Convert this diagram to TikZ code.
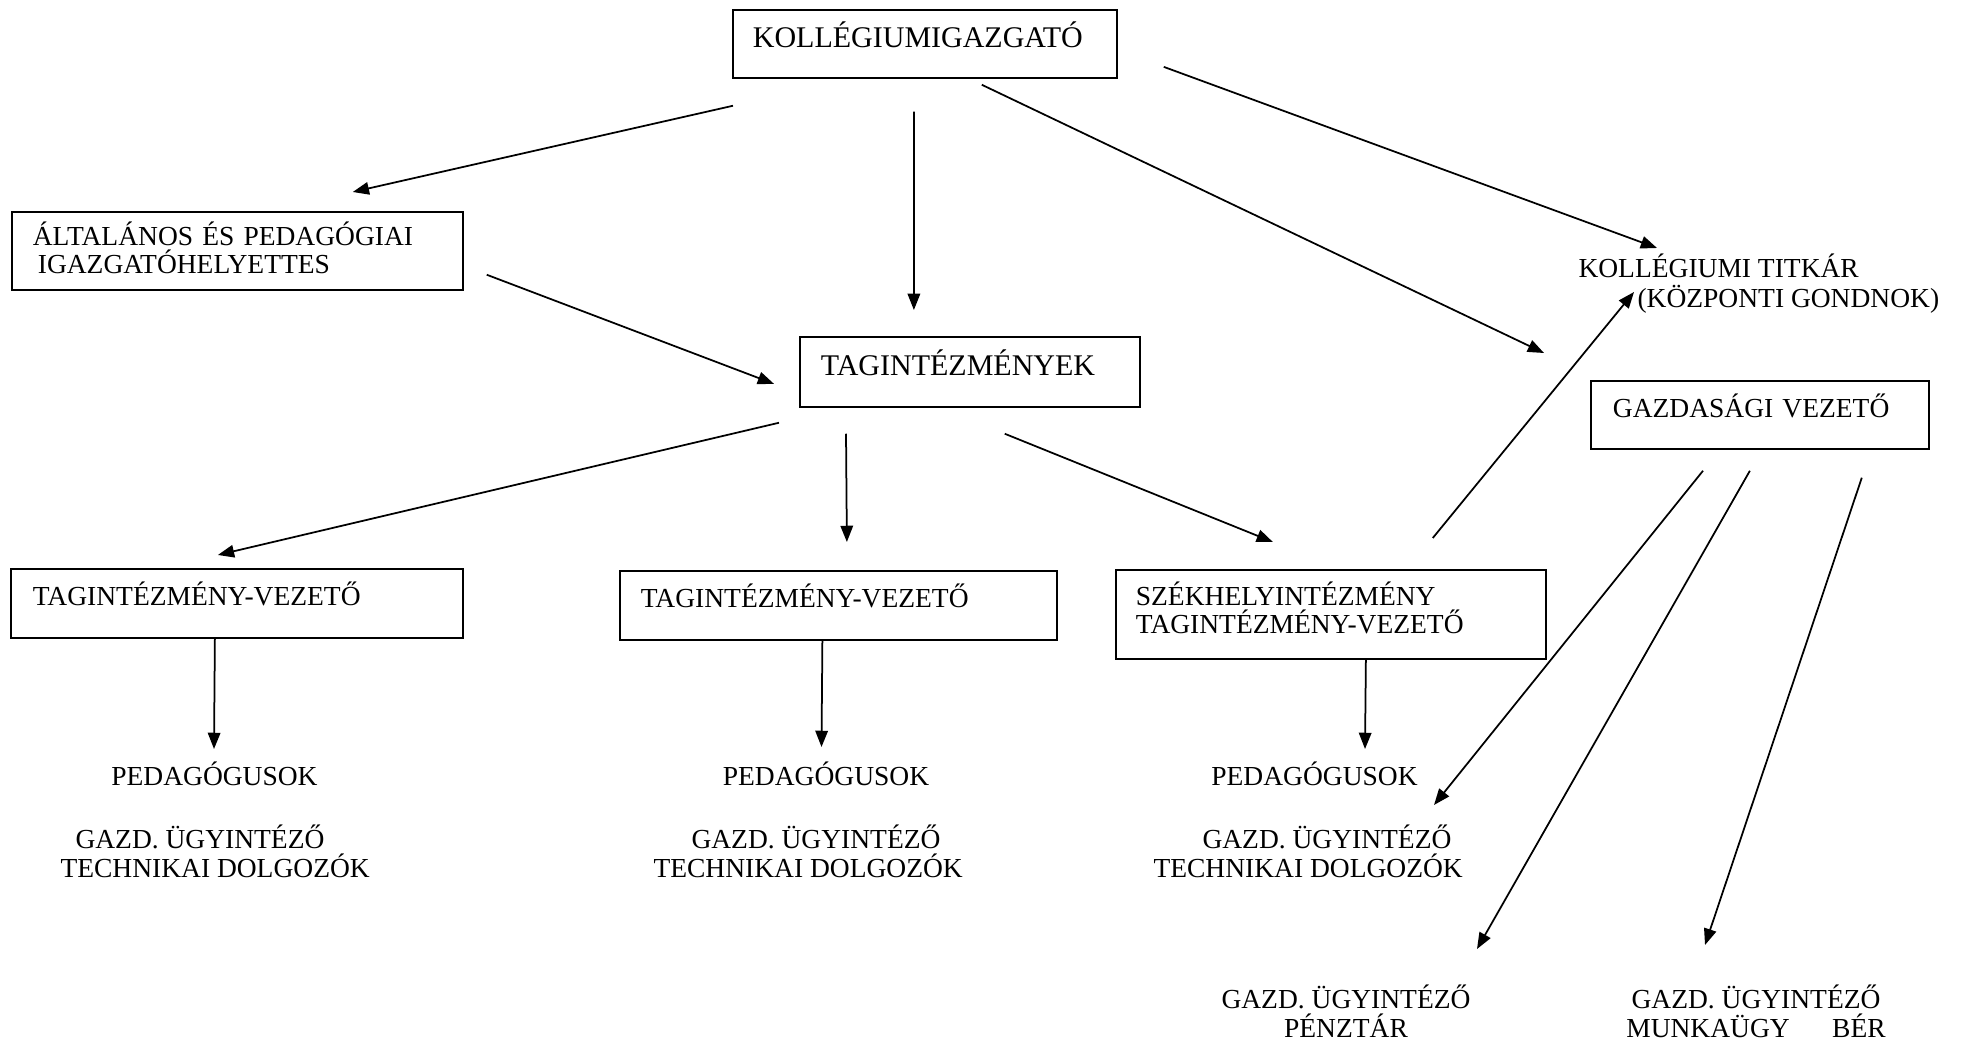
\documentclass[tikz,border=0pt]{standalone}
\usepackage{fontspec}
\setmainfont{Liberation Serif}
\usetikzlibrary{arrows.meta}

\begin{document}
\begin{tikzpicture}[x=0.4pt,y=-0.4pt,
	doboz/.style={draw,line width=0.7pt,anchor=north west,inner ysep=0pt,inner xsep=8.4pt,align=left,
		font=\fontsize{11}{11.2}\selectfont,text height=14.8pt,text depth=12.8pt},
	felirat/.style={inner sep=0pt,font=\fontsize{11}{11.6}\selectfont,text height=7.5pt},
	nyil/.style={line width=0.7pt,-{Triangle[length=6.5pt,width=5pt]}}]
	\useasboundingbox (0,0) rectangle (1963,1044);

	\node[doboz,font=\fontsize{12}{13}\selectfont,inner xsep=8pt,text width=137.6pt,text height=15.2pt,text depth=12pt] (igazgato) at (732,9) {KOLLÉGIUMIGAZGATÓ};
	\node[doboz,text width=163.6pt,text height=13.6pt,text depth=17.6pt] (altalanos) at (11,211) {ÁLTALÁNOS ÉS PEDAGÓGIAI\\\hspace*{2pt}IGAZGATÓHELYETTES};
	\node[doboz,font=\fontsize{12}{13}\selectfont,text width=119.2pt,text height=15.6pt,text depth=12.4pt] (tagint) at (799,336) {TAGINTÉZMÉNYEK};
	\node[doboz,inner xsep=8.8pt,text width=163.2pt] (tv1) at (10,568) {TAGINTÉZMÉNY-VEZETŐ};
	\node[doboz,text width=158pt] (tv2) at (619,570) {TAGINTÉZMÉNY-VEZETŐ};
	\node[doboz,inner xsep=8pt,text width=156pt,text height=14.4pt,text depth=21.2pt] (szekhely) at (1115,569) {SZÉKHELYINTÉZMÉNY\\TAGINTÉZMÉNY-VEZETŐ};
	\node[doboz,inner xsep=8.8pt,text width=117.6pt,text depth=12.4pt] (gazdasagi) at (1590,380) {GAZDASÁGI VEZETŐ};

	\node[felirat,anchor=north west,align=left,font=\fontsize{11}{12}\selectfont,text height=19.5pt] (titkar) at (1578,258) {KOLLÉGIUMI TITKÁR\\\hspace*{23.6pt}(KÖZPONTI GONDNOK)};

	\node[felirat,anchor=north] (ped1) at (214.5,766) {PEDAGÓGUSOK};
	\node[felirat,anchor=north] (ped2) at (826,766) {PEDAGÓGUSOK};
	\node[felirat,anchor=north] (ped3) at (1314.5,766) {PEDAGÓGUSOK};

	\node[felirat,anchor=north west,align=left,text height=19.1pt] (gazd1) at (60,829) {\hspace*{6pt}GAZD. ÜGYINTÉZŐ\\TECHNIKAI DOLGOZÓK};
	\node[felirat,anchor=north west,align=left,text height=19.1pt] (gazd2) at (653,829) {\hspace*{15.2pt}GAZD. ÜGYINTÉZŐ\\TECHNIKAI DOLGOZÓK};
	\node[felirat,anchor=north west,align=left,text height=19.1pt] (gazd3) at (1153,829) {\hspace*{19.6pt}GAZD. ÜGYINTÉZŐ\\TECHNIKAI DOLGOZÓK};

	\node[felirat,anchor=north,align=center,text height=19.1pt] (penztar) at (1346,989) {GAZD. ÜGYINTÉZŐ\\PÉNZTÁR};
	\node[felirat,anchor=north,align=center,text height=19.1pt] (munkaugy) at (1756,989) {GAZD. ÜGYINTÉZŐ\\MUNKAÜGY\hspace{17pt}BÉR};

	\draw[nyil] ([shift={(1,27)}]igazgato.south west) -- ([shift={(-111,-19)}]altalanos.north east);
	\draw[nyil] ([shift={(-11,33)}]igazgato.south) -- ([shift={(-56,-26)}]tagint.north);
	\draw[nyil] ([shift={(-136,6)}]igazgato.south east) -- ([shift={(-46,-27)}]gazdasagi.north west);
	\draw[nyil] ([shift={(46,23)}]igazgato.east) -- ([shift={(79,-10)}]titkar.north west);
	\draw[nyil] ([shift={(23,-16)}]altalanos.south east) -- ([shift={(-25,12)}]tagint.west);

	\draw[nyil] ([shift={(-20,15)}]tagint.south west) -- ([shift={(-19,-13)}]tv1.north);
	\draw[nyil] ([shift={(47,26)}]tagint.south west) -- ([shift={(8.5,-28)}]tv2.north);
	\draw[nyil] ([shift={(-136,26)}]tagint.south east) -- ([shift={(-58,-27)}]szekhely.north);
	\draw[nyil] ([shift={(-114,-31)}]szekhely.north east) -- ([shift={(56,34)}]titkar.north west);

	\draw[nyil] ([shift={(-22,0)}]tv1.south) -- ([shift={(-0.5,-17)}]ped1.north);
	\draw[nyil] ([shift={(-16,0)}]tv2.south) -- ([shift={(-4.5,-19)}]ped2.north);
	\draw[nyil] ([shift={(35,0)}]szekhely.south) -- ([shift={(50.5,-17)}]ped3.north);

	\draw[nyil] ([shift={(113,21)}]gazdasagi.south west) -- ([shift={(281,-24)}]gazd3.north west);
	\draw[nyil] ([shift={(-10,21)}]gazdasagi.south) -- ([shift={(131,-40)}]penztar.north);
	\draw[nyil] ([shift={(-68,28)}]gazdasagi.south east) -- ([shift={(-51,-44)}]munkaugy.north);
\end{tikzpicture}
\end{document}
